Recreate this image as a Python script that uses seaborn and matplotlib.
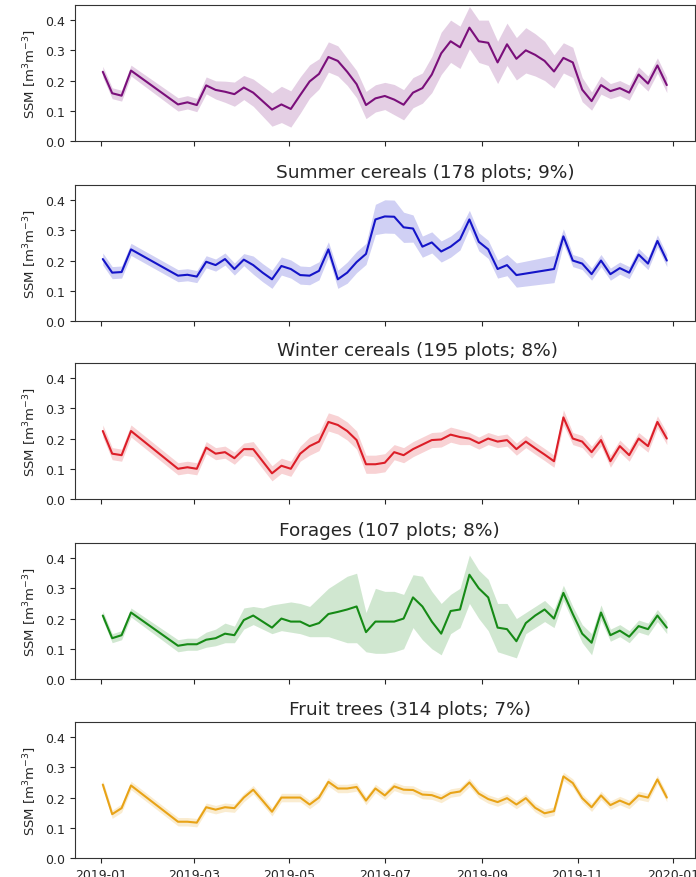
import pandas as pd
import numpy as np
import matplotlib
matplotlib.use("Agg")
import matplotlib.pyplot as plt
import matplotlib.dates as mdates
import seaborn as sns

DATES = ["2019-01-02", "2019-01-08", "2019-01-14", "2019-01-20",
         "2019-02-19", "2019-02-25", "2019-03-03", "2019-03-09", "2019-03-15",
         "2019-03-21", "2019-03-27", "2019-04-02", "2019-04-08", "2019-04-14",
         "2019-04-20", "2019-04-26", "2019-05-02", "2019-05-08", "2019-05-14",
         "2019-05-20", "2019-05-26", "2019-06-01", "2019-06-07", "2019-06-13",
         "2019-06-19", "2019-06-25", "2019-07-01", "2019-07-07", "2019-07-13",
         "2019-07-19", "2019-07-25", "2019-07-31", "2019-08-06", "2019-08-12",
         "2019-08-18", "2019-08-24", "2019-08-30", "2019-09-05", "2019-09-11",
         "2019-09-17", "2019-09-23", "2019-09-29", "2019-10-05", "2019-10-11",
         "2019-10-17", "2019-10-23", "2019-10-29", "2019-11-04", "2019-11-10",
         "2019-11-16", "2019-11-22", "2019-11-28", "2019-12-04", "2019-12-10",
         "2019-12-16", "2019-12-22", "2019-12-28"]

TITLES = ["", "Summer cereals (178 plots; 9%)", "Winter cereals (195 plots; 8%)",
          "Forages (107 plots; 8%)", "Fruit trees (314 plots; 7%)"]
COLORS = ["#7a0f7a", "#1414c8", "#dc1e28", "#168a16", "#e8a317"]

nan = np.nan
PURPLE_MEAN = [0.229, 0.158, 0.150, 0.233, 0.121, 0.128, 0.119, 0.184, 0.169, 0.163,
               0.155, 0.177, 0.160, 0.132, 0.104, 0.121, 0.106, 0.152, 0.197, 0.222,
               0.278, 0.265, 0.229, 0.188, 0.119, 0.141, 0.149, 0.137, 0.120, 0.160,
               0.175, 0.220, 0.290, 0.330, 0.310, 0.375, 0.330, 0.325, 0.260, 0.320,
               0.272, 0.300, 0.285, 0.265, 0.230, 0.275, 0.260, 0.170, 0.132, 0.185,
               0.165, 0.175, 0.160, 0.220, 0.190, 0.250, 0.185]
PURPLE_ERR = [0.018, 0.018, 0.018, 0.018, 0.022, 0.022, 0.022, 0.028, 0.03, 0.035,
              0.04, 0.04, 0.045, 0.05, 0.055, 0.06, 0.06, 0.06, 0.055, 0.05,
              0.05, 0.05, 0.045, 0.045, 0.045, 0.045, 0.045, 0.05, 0.05, 0.05,
              0.05, 0.06, 0.07, 0.07, 0.07, 0.07, 0.07, 0.075, 0.07, 0.07,
              0.07, 0.075, 0.07, 0.065, 0.055, 0.05, 0.05, 0.04, 0.03, 0.03,
              0.025, 0.025, 0.025, 0.025, 0.025, 0.025, 0.025]

SUMMER_MEAN = [0.205, 0.160, 0.162, 0.237, 0.150, 0.153, 0.147, 0.196, 0.185, 0.205,
               0.172, 0.203, 0.185, 0.160, 0.138, 0.182, 0.172, 0.152, 0.150, 0.166,
               0.237, 0.138, 0.160, 0.195, 0.222, 0.336, 0.346, 0.345, 0.310, 0.306,
               0.246, 0.260, 0.230, 0.246, 0.270, 0.336, 0.262, 0.237, 0.172, 0.185,
               0.152, nan, nan, nan, 0.172, 0.280, 0.200, 0.190, 0.155, 0.200,
               0.155, 0.175, 0.160, 0.220, 0.190, 0.265, 0.200]
SUMMER_ERR = [0.02, 0.02, 0.02, 0.02, 0.02, 0.02, 0.02, 0.02, 0.02, 0.02,
              0.02, 0.02, 0.03, 0.03, 0.03, 0.03, 0.03, 0.03, 0.03, 0.03,
              0.025, 0.03, 0.035, 0.035, 0.035, 0.05, 0.055, 0.055, 0.05, 0.045,
              0.035, 0.035, 0.035, 0.035, 0.035, 0.03, 0.03, 0.03, 0.03, 0.035,
              0.04, nan, nan, nan, 0.045, 0.025, 0.02, 0.02, 0.02, 0.02,
              0.02, 0.02, 0.02, 0.02, 0.02, 0.02, 0.02]

WINTER_MEAN = [0.225, 0.150, 0.145, 0.225, 0.100, 0.105, 0.100, 0.170, 0.150, 0.155,
               0.135, 0.165, 0.165, 0.125, 0.085, 0.110, 0.100, 0.150, 0.175, 0.190,
               0.255, 0.245, 0.225, 0.195, 0.115, 0.115, 0.120, 0.155, 0.145, 0.165,
               0.180, 0.195, 0.197, 0.213, 0.205, 0.200, 0.185, 0.200, 0.190, 0.195,
               0.165, 0.190, 0.168, 0.147, 0.125, 0.270, 0.200, 0.190, 0.155, 0.195,
               0.125, 0.175, 0.145, 0.200, 0.175, 0.255, 0.200]
WINTER_ERR = [0.02, 0.02, 0.02, 0.02, 0.02, 0.02, 0.02, 0.02, 0.02, 0.02,
              0.02, 0.02, 0.025, 0.025, 0.025, 0.025, 0.025, 0.025, 0.03, 0.03,
              0.03, 0.03, 0.03, 0.03, 0.03, 0.03, 0.03, 0.025, 0.025, 0.025,
              0.025, 0.025, 0.025, 0.025, 0.025, 0.02, 0.02, 0.02, 0.02, 0.02,
              0.02, 0.02, 0.02, 0.02, 0.02, 0.025, 0.02, 0.02, 0.02, 0.02,
              0.02, 0.02, 0.02, 0.02, 0.02, 0.02, 0.02]

FORAGE_MEAN = [0.210, 0.135, 0.145, 0.220, 0.110, 0.115, 0.115, 0.130, 0.135, 0.150,
               0.145, 0.195, 0.210, 0.190, 0.170, 0.200, 0.190, 0.190, 0.175, 0.185,
               0.215, 0.222, 0.230, 0.240, 0.155, 0.190, 0.190, 0.190, 0.200, 0.270,
               0.240, 0.190, 0.150, 0.225, 0.230, 0.345, 0.300, 0.270, 0.170, 0.165,
               0.125, 0.185, 0.210, 0.230, 0.200, 0.285, 0.215, 0.150, 0.120, 0.220,
               0.145, 0.160, 0.140, 0.175, 0.165, 0.210, 0.170]
FORAGE_LO = [0.195, 0.12, 0.13, 0.205, 0.09, 0.095, 0.095, 0.105, 0.11, 0.12,
             0.12, 0.165, 0.18, 0.165, 0.15, 0.16, 0.155, 0.15, 0.14, 0.14,
             0.14, 0.13, 0.12, 0.12, 0.09, 0.085, 0.085, 0.09, 0.10, 0.17,
             0.13, 0.10, 0.08, 0.15, 0.17, 0.25, 0.20, 0.16, 0.09, 0.08,
             0.07, 0.15, 0.17, 0.19, 0.17, 0.26, 0.19, 0.12, 0.08, 0.195,
             0.125, 0.14, 0.12, 0.155, 0.145, 0.19, 0.15]
FORAGE_HI = [0.225, 0.15, 0.16, 0.235, 0.13, 0.135, 0.135, 0.155, 0.165, 0.185,
             0.175, 0.235, 0.24, 0.235, 0.245, 0.25, 0.255, 0.25, 0.24, 0.27,
             0.30, 0.32, 0.34, 0.35, 0.22, 0.30, 0.29, 0.29, 0.28, 0.345,
             0.34, 0.29, 0.25, 0.28, 0.30, 0.41, 0.36, 0.33, 0.25, 0.25,
             0.20, 0.22, 0.24, 0.26, 0.23, 0.31, 0.24, 0.18, 0.15, 0.245,
             0.165, 0.18, 0.16, 0.195, 0.185, 0.23, 0.19]

FRUIT_MEAN = [0.243, 0.145, 0.165, 0.240, 0.120, 0.120, 0.117, 0.168, 0.160, 0.168,
              0.165, 0.200, 0.226, 0.190, 0.153, 0.200, 0.200, 0.200, 0.177, 0.200,
              0.252, 0.230, 0.230, 0.235, 0.190, 0.230, 0.207, 0.237, 0.226, 0.225,
              0.210, 0.208, 0.197, 0.215, 0.220, 0.250, 0.213, 0.195, 0.185, 0.198,
              0.177, 0.198, 0.166, 0.148, 0.155, 0.270, 0.248, 0.198, 0.168, 0.207,
              0.175, 0.190, 0.177, 0.207, 0.200, 0.260, 0.200]
FRUIT_ERR = [0.014] * 57

sns.set_theme(style="ticks")
plt.rcParams["font.family"] = ["DejaVu Sans"]

fig = plt.figure(figsize=(6.96, 8.78), dpi=100)
W, H = 696.0, 878.0
left, right = 74.6, 695.0
bottoms = [142, 322, 500, 680, 859]
ph = 136
title_x = [0.5, 0.566, 0.553, 0.508, 0.540]

dates = pd.to_datetime(DATES)
means = [PURPLE_MEAN, SUMMER_MEAN, WINTER_MEAN, FORAGE_MEAN, FRUIT_MEAN]
errs = [PURPLE_ERR, SUMMER_ERR, WINTER_ERR, None, FRUIT_ERR]

axes = []
for i in range(5):
    ax = fig.add_axes([left / W, 1 - bottoms[i] / H, (right - left) / W, ph / H])
    axes.append(ax)
    df = pd.DataFrame({"date": dates, "ssm": means[i]})
    if errs[i] is None:
        df["lo"] = FORAGE_LO
        df["hi"] = FORAGE_HI
    else:
        e = np.array(errs[i], dtype=float)
        df["lo"] = df["ssm"] - e
        df["hi"] = df["ssm"] + e
    df = df.dropna()
    ax.fill_between(df["date"], df["lo"], df["hi"], color=COLORS[i], alpha=0.2, lw=0)
    sns.lineplot(data=df, x="date", y="ssm", ax=ax, color=COLORS[i], lw=1.5)
    ax.set_ylim(0, 0.45)
    ax.set_yticks([0.0, 0.1, 0.2, 0.3, 0.4])
    ax.set_ylabel("SSM [m$^3$m$^{-3}$]", fontsize=9.5)
    ax.set_xlabel("")
    if TITLES[i]:
        ax.set_title(TITLES[i], fontsize=13.3, pad=6, x=title_x[i])
    ax.xaxis.set_major_locator(mdates.MonthLocator(bymonth=[1, 3, 5, 7, 9, 11]))
    ax.xaxis.set_major_formatter(mdates.DateFormatter("%Y-%m"))
    ax.tick_params(labelsize=9, direction="out", length=3.5, width=0.8)
    for s in ax.spines.values():
        s.set_linewidth(0.8)
        s.set_color("#333333")
    if i < 4:
        ax.tick_params(labelbottom=False)

xmin = min(a.get_xlim()[0] for a in axes)
xmax = max(a.get_xlim()[1] for a in axes)
for a in axes:
    a.set_xlim(xmin, xmax)

fig.savefig("out.png", dpi=100)
